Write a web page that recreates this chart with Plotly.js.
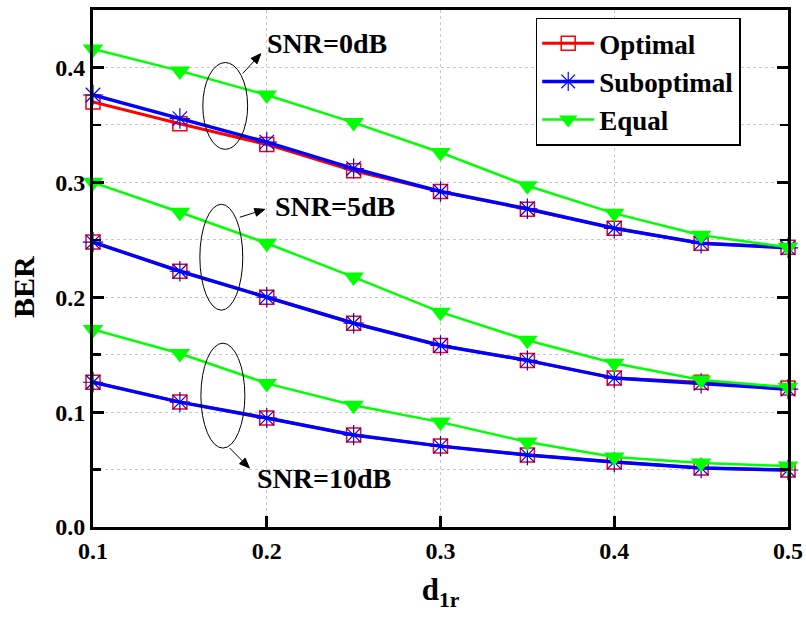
<!DOCTYPE html>
<html>
<head>
<meta charset="utf-8">
<script src="https://cdn.plot.ly/plotly-3.0.1.min.js"></script>
<style>html,body{margin:0;padding:0;background:#fff;}#chart{width:806px;height:618px;}</style>
</head>
<body>
<div id="chart"></div>
<script>
const d1r = [0.1, 0.15, 0.2, 0.25, 0.3, 0.35, 0.4, 0.45, 0.5];

const optimal0  = [0.370, 0.351, 0.333, 0.310, 0.292, 0.2765, 0.260, 0.247, 0.2435];
const subopt0   = [0.376, 0.3555, 0.335, 0.312, 0.292, 0.277, 0.260, 0.247, 0.243];
const equal0    = [0.416, 0.397, 0.376, 0.352, 0.326, 0.297, 0.273, 0.254, 0.2435];

const optimal5  = [0.248, 0.2226, 0.200, 0.1774, 0.158, 0.145, 0.1296, 0.126, 0.121];
const subopt5   = [0.248, 0.2226, 0.200, 0.1774, 0.158, 0.145, 0.1296, 0.125, 0.120];
const equal5    = [0.300, 0.274, 0.247, 0.2175, 0.187, 0.1626, 0.1426, 0.128, 0.1217];

const optimal10 = [0.126, 0.1087, 0.0948, 0.080, 0.0704, 0.0626, 0.0565, 0.0513, 0.0496];
const subopt10  = [0.126, 0.1087, 0.0948, 0.080, 0.0704, 0.0626, 0.0565, 0.0513, 0.0496];
const equal10   = [0.172, 0.151, 0.125, 0.106, 0.0913, 0.074, 0.061, 0.0556, 0.053];

const seriesNames = ['Optimal', 'Suboptimal', 'Equal'];
const snrLabels = ['SNR=0dB', 'SNR=5dB', 'SNR=10dB'];
const yTitle = 'BER';
const xTitle = 'd<sub>1r</sub>';

const FONT = 'Liberation Serif, Times New Roman, serif';

const styles = {
  Optimal:    {color: '#ff0000', width: 3,   symbol: 'square-open',   size: 14, mline: 1.5},
  Suboptimal: {color: '#0000ff', width: 3.5, symbol: 'asterisk-open', size: 17, mline: 1.2},
  Equal:      {color: '#00ff00', width: 2.5, symbol: 'triangle-down', size: 18, mline: 0}
};

const groups = [
  {Optimal: optimal0,  Suboptimal: subopt0,  Equal: equal0},
  {Optimal: optimal5,  Suboptimal: subopt5,  Equal: equal5},
  {Optimal: optimal10, Suboptimal: subopt10, Equal: equal10}
];

const traces = [];
seriesNames.forEach(name => {
  groups.forEach((g, gi) => {
    const s = styles[name];
    traces.push({
      x: d1r, y: g[name], type: 'scatter', mode: 'lines+markers',
      name: name, legendgroup: name, showlegend: gi === 0,
      line: {color: s.color, width: s.width},
      marker: {symbol: s.symbol, size: s.size, color: s.color,
               line: {color: s.color, width: s.mline}},
      cliponaxis: false
    });
  });
});

// plot-area geometry (for converting decoration sizes from pixels)
const XR = [0.1, 0.5], YR = [0, 0.45];
const M = {l: 93, r: 18, t: 10, b: 91};
const PW = 806 - M.l - M.r, PH = 618 - M.t - M.b;
const pxX = v => (v - XR[0]) / (XR[1] - XR[0]) * PW;
const pxY = v => (v - YR[0]) / (YR[1] - YR[0]) * PH;
const dX = p => XR[0] + p / PW * (XR[1] - XR[0]);
const dY = p => YR[0] + p / PH * (YR[1] - YR[0]);

const ellipses = [
  {x0: 0.1632, x1: 0.189,  y0: 0.3287, y1: 0.4043},
  {x0: 0.1615, x1: 0.1862, y0: 0.1887, y1: 0.2809},
  {x0: 0.1621, x1: 0.1874, y0: 0.0687, y1: 0.160}
];
const shapes = ellipses.map(e => ({type: 'circle', xref: 'x', yref: 'y',
  x0: e.x0, x1: e.x1, y0: e.y0, y1: e.y1, line: {color: '#000', width: 1}}));

const arrows = [
  {x: 0.1966, y: 0.412,  ax: 0.1862, ay: 0.3948},
  {x: 0.1989, y: 0.2765, ax: 0.1845, ay: 0.2696},
  {x: 0.190,  y: 0.0513, ax: 0.1787, ay: 0.0687}
];
arrows.forEach(a => {
  const hx = pxX(a.x), hy = pxY(a.y), tx = pxX(a.ax), ty = pxY(a.ay);
  const len = Math.hypot(hx - tx, hy - ty);
  const ux = (hx - tx) / len, uy = (hy - ty) / len;
  const L = 10, W = 4;
  const bx = hx - ux * L, by = hy - uy * L;
  const p1x = bx - uy * W, p1y = by + ux * W;
  const p2x = bx + uy * W, p2y = by - ux * W;
  shapes.push({type: 'line', xref: 'x', yref: 'y', x0: a.ax, y0: a.ay,
    x1: dX(bx), y1: dY(by), line: {color: '#000', width: 1}});
  shapes.push({type: 'path', xref: 'x', yref: 'y',
    path: `M ${a.x} ${a.y} L ${dX(p1x)} ${dY(p1y)} L ${dX(p2x)} ${dY(p2y)} Z`,
    fillcolor: '#000', line: {color: '#000', width: 1}});
});

const labelPos = [
  {x: 0.1989, y: 0.4209},
  {x: 0.2034, y: 0.279},
  {x: 0.1931, y: 0.0426}
];
const annotations = labelPos.map((p, i) => ({x: p.x, y: p.y, xref: 'x', yref: 'y',
  text: snrLabels[i], showarrow: false, xanchor: 'left', yanchor: 'middle',
  font: {family: FONT, size: 28, color: '#000', weight: 'bold'}}));

// y-axis title (placed slightly below the plot centre, as in the reference)
annotations.push({xref: 'paper', yref: 'paper', x: -0.101, y: 0.464,
  xanchor: 'center', yanchor: 'middle', textangle: -90, showarrow: false,
  text: yTitle, font: {family: FONT, size: 30, color: '#000', weight: 'bold'}});

const layout = {
  width: 806, height: 618,
  margin: {l: M.l, r: M.r, t: M.t, b: M.b},
  paper_bgcolor: '#fff', plot_bgcolor: '#fff',
  font: {family: FONT, color: '#000', weight: 'bold'},
  showlegend: true,
  legend: {x: 0.637, y: 0.985, xanchor: 'left', yanchor: 'top',
    bgcolor: '#fff', bordercolor: '#000', borderwidth: 1.5,
    font: {family: FONT, size: 27, weight: 'bold', color: '#000'},
    itemwidth: 52, tracegroupgap: 0},
  xaxis: {
    range: XR, dtick: 0.1, tick0: 0.1, tickformat: '.1f',
    ticks: 'inside', ticklen: 11, tickwidth: 3, tickcolor: '#000',
    showline: true, linecolor: '#000', linewidth: 3, mirror: true,
    showgrid: true, gridcolor: '#c8c8c8', gridwidth: 1, griddash: 'dot',
    zeroline: false,
    tickfont: {family: FONT, size: 24, weight: 'bold'},
    title: {text: xTitle, font: {family: FONT, size: 31, weight: 'bold'}, standoff: 16}
  },
  yaxis: {
    range: YR, dtick: 0.1, tick0: 0, tickformat: '.1f',
    ticks: 'inside', ticklen: 11, tickwidth: 3, tickcolor: '#000',
    minor: {dtick: 0.05, ticks: 'inside', ticklen: 8, tickwidth: 2.5, tickcolor: '#000',
            showgrid: true, gridcolor: '#c8c8c8', gridwidth: 1, griddash: 'dot'},
    showline: true, linecolor: '#000', linewidth: 3, mirror: 'ticks',
    showgrid: true, gridcolor: '#c8c8c8', gridwidth: 1, griddash: 'dot',
    zeroline: false,
    tickfont: {family: FONT, size: 24, weight: 'bold'}
  },
  shapes: shapes,
  annotations: annotations
};

Plotly.newPlot('chart', traces, layout, {displayModeBar: false, staticPlot: true});
</script>
</body>
</html>
